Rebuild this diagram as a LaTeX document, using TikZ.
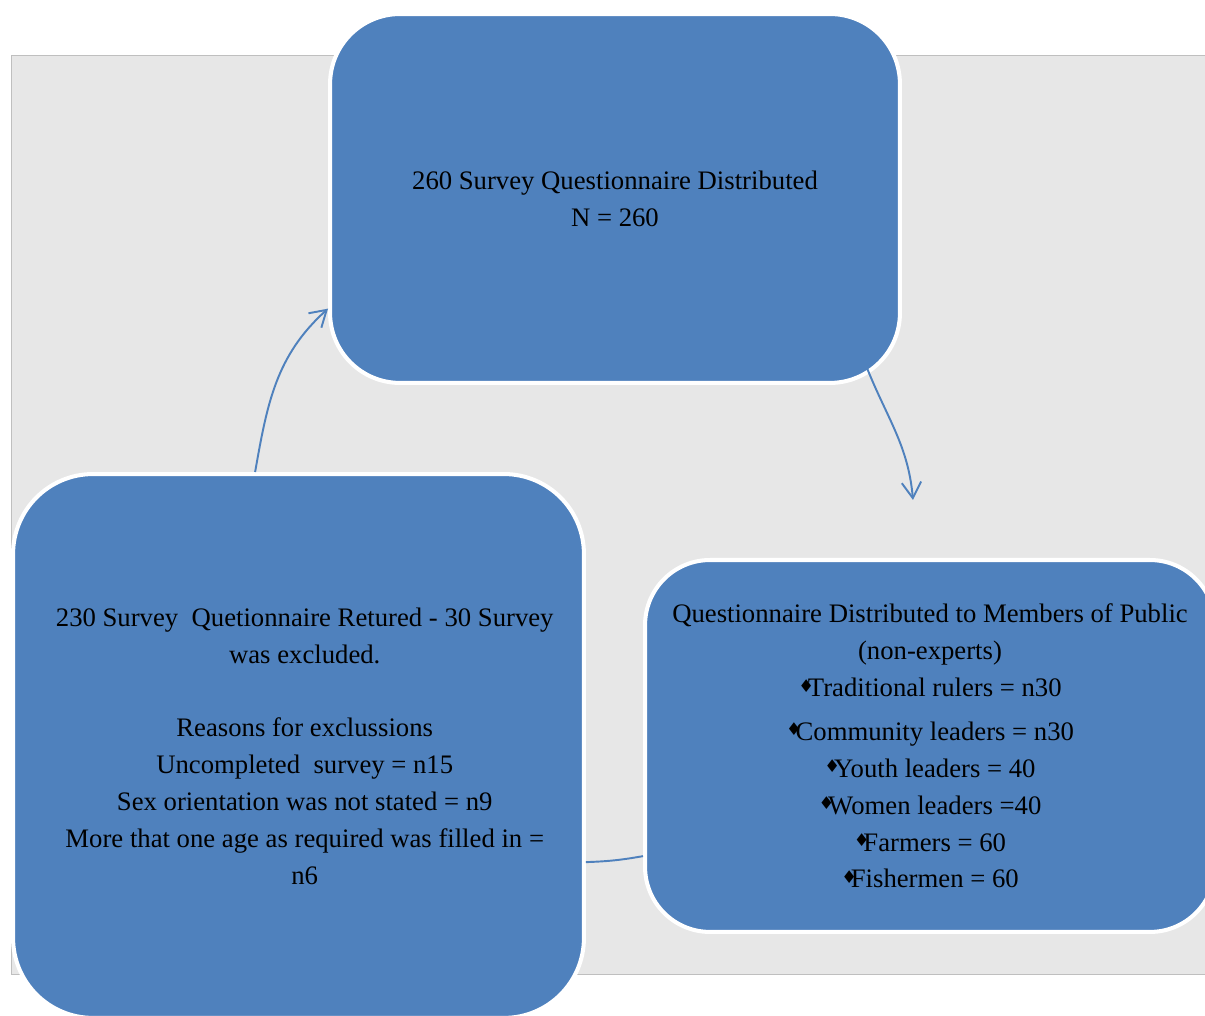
\documentclass[tikz,border=0pt]{standalone}
\usepackage{fontspec}
\setmainfont{Liberation Serif}
\newfontfamily\symfont{DejaVu Sans}
\usetikzlibrary{arrows.meta}

\definecolor{boxblue}{RGB}{79,129,189}
\definecolor{bggray}{RGB}{231,231,231}
\definecolor{edgegray}{RGB}{191,191,191}

\newcommand{\dmd}{{\symfont\fontsize{10}{10}\selectfont\raisebox{2.5pt}{♦}}\kern-3.5pt}

\tikzset{
  stagebox/.style={rectangle, rounded corners=1.4cm, fill=boxblue, draw=white,
    line width=2.3pt, align=center, inner sep=0pt, font=\fontsize{15.2}{21}\selectfont},
  flowline/.style={draw=boxblue, line width=1.1pt},
  flowarrow/.style={flowline, -{Straight Barb[length=9pt, width=11pt]}}
}

\begin{document}
\begin{tikzpicture}[x=0.02cm, y=0.02cm]
      \useasboundingbox (0,0) rectangle (1205,1016);
      \draw [edgegray, fill=bggray] (11,961) rectangle (1215,42);

      \node [stagebox, minimum width=11.4cm, minimum height=7.38cm] (tbox) at (615, 817.5)
        {260 Survey Questionnaire Distributed\\N = 260};

      \node [stagebox, rounded corners=1.6cm, minimum width=11.42cm, minimum height=10.88cm,
             text depth=0pt] (lbox) at (298.5, 270)
        {\hspace*{0.25cm}230 Survey\ \ Quetionnaire Retured - 30 Survey\\\hspace*{0.25cm}was excluded.\\[21pt]
         \hspace*{0.25cm}Reasons for exclussions\\\hspace*{0.25cm}Uncompleted\ \ survey = n15\\
         \hspace*{0.25cm}Sex orientation was not stated = n9\\
         \hspace*{0.25cm}More that one age as required was filled in =\\\hspace*{0.25cm}n6};

      \node [stagebox, rounded corners=1.3cm, minimum width=11.4cm, minimum height=7.44cm] (rbox) at (930, 270)
        {Questionnaire Distributed to Members of Public\\(non-experts)\\
         \dmd Traditional rulers = n30\\[4pt]
         \dmd Community leaders = n30\\
         \dmd Youth leaders = 40\\
         \dmd Women leaders =40\\
         \dmd Farmers = 60\\
         \dmd Fishermen = 60};

      \coordinate (tip) at (913, 516);

      \draw [flowarrow] (lbox.99) to [out=80, in=222] (tbox.201);
      \draw [flowarrow] ([xshift=-0.28cm, yshift=0.32cm]tbox.325) to [out=-68, in=95] (tip);
      \draw [flowline] (rbox.201) to [out=190, in=2] (lbox.338);
\end{tikzpicture}
\end{document}
